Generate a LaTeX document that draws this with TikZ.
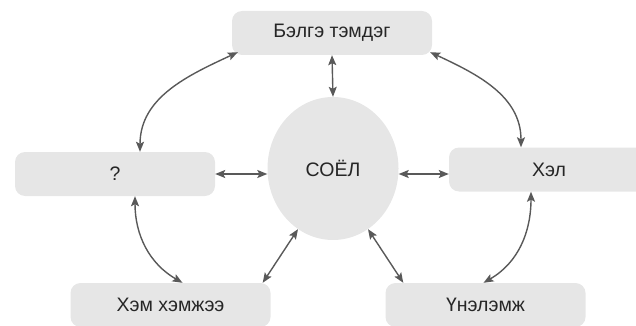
\documentclass[tikz,border=0pt]{standalone}
\usepackage{fontspec}
\setmainfont{Liberation Sans}
\usetikzlibrary{arrows.meta,shapes.geometric}
\definecolor{boxgray}{HTML}{E6E6E6}
\definecolor{arrowgray}{HTML}{595959}
\tikzset{
  term/.style={fill=boxgray, rounded corners=10pt, minimum width=200pt, minimum height=44pt,
    inner sep=0pt, text=black!85, font=\fontsize{19.5}{22}\selectfont},
  link/.style={draw=arrowgray, line width=1.4pt,
    {Stealth[length=10pt,width=8pt,inset=2pt]}-{Stealth[length=10pt,width=8pt,inset=2pt]}}
}
\begin{document}
\begin{tikzpicture}[x=1pt, y=1pt]
			\useasboundingbox (0,0) rectangle (636,-326);
			\node[term] (symbol) at (332,-33) {Бэлгэ тэмдэг};
			\node[term] (unknown) at (115,-174) {?};
			\node[term] (lang) at (549,-169.5) {Хэл};
			\node[term] (norm) at (170.5,-305) {Хэм хэмжээ};
			\node[term] (value) at (485.5,-305) {Үнэлэмж};
			\node[ellipse, fill=boxgray, minimum width=131pt, minimum height=143pt, inner sep=0pt,
			  text=black!85, font=\fontsize{19.5}{22}\selectfont] (soel) at (333,-168.5) {СОЁЛ};
			\draw[link] (symbol.south) -- (soel.north);
			\draw[link] (unknown.east) -- (unknown.east -| soel.west);
			\draw[link] (soel.east |- unknown.east) -- (lang.west |- unknown.east);
			\draw[link] (soel.240) -- ([xshift=-8pt]norm.north east);
			\draw[link] (soel.300) -- ([xshift=18pt]value.north west);
			\draw[link] ([xshift=25pt]unknown.north) to[out=90, in=205] ([xshift=6pt,yshift=3pt]symbol.south west);
			\draw[link] ([xshift=-2pt,yshift=3pt]symbol.south east) to[out=-25, in=90] ([xshift=-28pt]lang.north);
			\draw[link] ([xshift=20pt]unknown.south) to[out=-90, in=150] ([xshift=12pt]norm.north);
			\draw[link] ([xshift=-18pt]lang.south) to[out=-90, in=30] ([xshift=-2pt]value.north);
\end{tikzpicture}
\end{document}
